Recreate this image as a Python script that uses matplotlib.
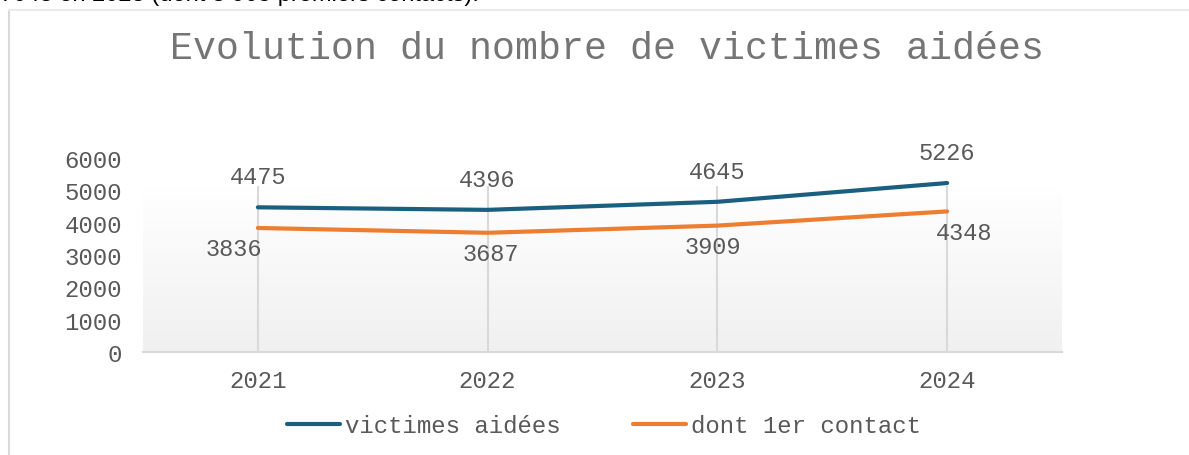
import matplotlib.pyplot as plt
import numpy as np

annees = ["2021", "2022", "2023", "2024"]
victimes = [4475, 4396, 4645, 5226]
premier_contact = [3836, 3687, 3909, 4348]
yticks = [0, 1000, 2000, 3000, 4000, 5000, 6000]

bleu = "#1b5f80"
orange = "#ed7d31"
gris = "#595959"
mono = "Liberation Mono"

fig = plt.figure(figsize=(11.89, 4.56), dpi=100)

# texte coupe en haut (ligne du document d'origine)
fig.text(0.0, 1.0 + 5 / 456, "7043 en 2023 (dont 3 905 premiers contacts).",
         fontsize=17, family="Liberation Sans", color="black", va="center", ha="left")

# cadre gris clair du graphique
fig.add_artist(plt.Line2D([9 / 1189, 9 / 1189], [0, 1 - 11 / 456], color="#d9d9d9", lw=1.5))
fig.add_artist(plt.Line2D([9 / 1189, 1], [1 - 11 / 456, 1 - 11 / 456], color="#ebebeb", lw=1.5))

ax = fig.add_axes([143 / 1189, 103 / 456, (1062 - 143) / 1189, 194 / 456])
x = np.arange(len(annees))

# fond en degrade
haut_fond = 5130
grad = np.linspace(1, 0, 256).reshape(-1, 1)
ax.imshow(grad, extent=[-0.5, 3.5, 0, haut_fond], aspect="auto",
          cmap=plt.matplotlib.colors.LinearSegmentedColormap.from_list("g", ["#f0f0f0", "#ffffff"]),
          zorder=0)
ax.vlines(x, 0, haut_fond, color="#d9d9d9", lw=1.5, zorder=1)

ax.plot(x, victimes, color=bleu, lw=3, solid_capstyle="round", label="victimes aidées", zorder=3)
ax.plot(x, premier_contact, color=orange, lw=3, solid_capstyle="round", label="dont 1er contact", zorder=3)

for i, v in enumerate(victimes):
    ax.annotate(str(v), (x[i], v), xytext=(0, 22), textcoords="offset points",
                ha="center", va="center", fontsize=17, family=mono, color=gris)
dx = [-17, 2, -3, 12]
for i, v in enumerate(premier_contact):
    ax.annotate(str(v), (x[i], v), xytext=(dx[i], -15), textcoords="offset points",
                ha="center", va="center", fontsize=17, family=mono, color=gris)

ax.set_xlim(-0.5, 3.5)
ax.set_ylim(0, 6000)
ax.set_yticks(yticks)
ax.set_xticks(x)
ax.set_xticklabels(annees)
for lab in ax.get_xticklabels() + ax.get_yticklabels():
    lab.set_fontsize(17.3)
    lab.set_family(mono)
    lab.set_color(gris)
ax.tick_params(axis="both", length=0)
ax.tick_params(axis="y", pad=15)
ax.tick_params(axis="x", pad=12)
for s in ["top", "right", "left"]:
    ax.spines[s].set_visible(False)
ax.spines["bottom"].set_color("#d9d9d9")
ax.spines["bottom"].set_linewidth(1.5)
ax.spines["bottom"].set_zorder(2)

fig.text(607 / 1189, 1 - 49 / 456, "Evolution du nombre de victimes aidées",
         fontsize=27.5, family=mono, color="#757575", ha="center", va="center")

fig.legend(loc="center", bbox_to_anchor=(604 / 1189, 1 - 427 / 456), ncol=2, frameon=False,
           prop={"family": mono, "size": 17.3}, labelcolor=gris,
           handlelength=2.2, handletextpad=0.2, columnspacing=3.0)

fig.savefig("out.png", dpi=100)
